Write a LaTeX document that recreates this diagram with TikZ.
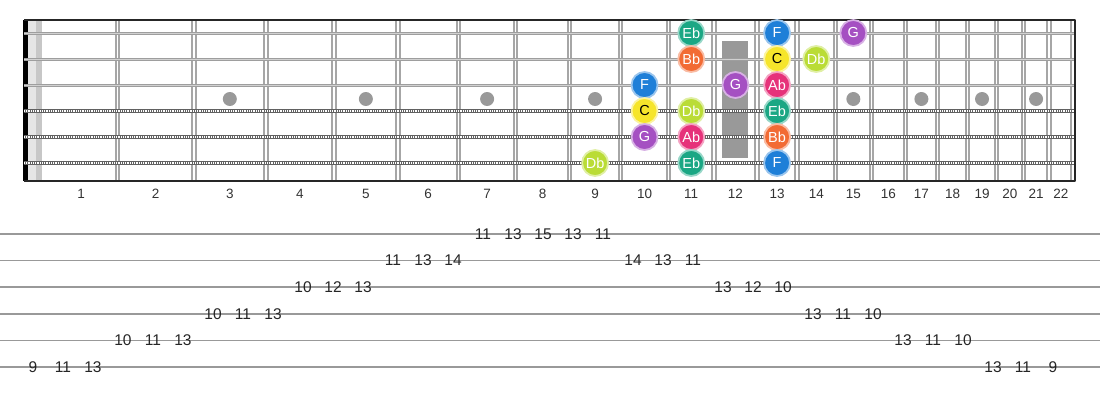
\documentclass[tikz,border=0pt]{standalone}
\usepackage{fontspec}
\setmainfont{Liberation Sans}
\definecolor{colEb}{HTML}{1BA784}
\definecolor{colF}{HTML}{1E7FD8}
\definecolor{colG}{HTML}{A550C2}
\definecolor{colBb}{HTML}{F26B34}
\definecolor{colC}{HTML}{F6E52B}
\definecolor{colDb}{HTML}{BADC36}
\definecolor{colAb}{HTML}{E6327A}
\begin{document}
\begin{tikzpicture}[x=1pt,y=-1pt, line join=round,
	declare function={fw(\n)=37+1440*(1-2^(-\n/12)); fc(\n)=(fw(\n-1)+fw(\n))/2;},
	note/.style={circle,minimum size=26pt,inner sep=0pt,line width=1.8pt,font=\fontsize{14.5}{16}\selectfont},
	tabnum/.style={inner sep=0pt,text=black!85,font=\fontsize{15.5}{17}\selectfont},
	fretnum/.style={inner sep=0pt,text=black!80,font=\fontsize{13.5}{15}\selectfont}]
	\def\sy{26} \def\ty{26.6} % string spacing
	\useasboundingbox (0,0) rectangle (1100,400);
	% nut
	\fill[black] (23,20) rectangle (28,181);
	\fill[black!10] (28,20) rectangle (36,181);
	\fill[black!22] (36,20) rectangle (42,181);
	% frets and inlays
	\foreach \n in {1,...,22} {
		\draw[black!35,line width=5.5pt] ({fw(\n)},20)--({fw(\n)},181);
		\draw[white,line width=1.5pt] ({fw(\n)},20)--({fw(\n)},181);
	}
	\foreach \n in {3,5,7,9,15,17,19,21} \fill[black!40] ({fc(\n)},99) circle[radius=7];
	\fill[black!40] ({fc(12)-13},41) rectangle ({fc(12)+13},158);
	% strings
	\foreach \s in {1,2,3} {
		\draw[black!38,line width=3pt] (24,{33+\sy*(\s-1)})--(1075,{33+\sy*(\s-1)});
		\draw[black!18,line width=0.8pt] (24,{33+\sy*(\s-1)})--(1075,{33+\sy*(\s-1)});
	}
	\foreach \s in {4,5,6} {
		\draw[black!62,line width=4.5pt] (24,{33+\sy*(\s-1)})--(1075,{33+\sy*(\s-1)});
		\draw[white,line width=1.8pt,dash pattern=on 0.8pt off 1pt] (24,{33+\sy*(\s-1)})--(1075,{33+\sy*(\s-1)});
	}
	\draw[black!85,line width=1.5pt] (24,20)--(1075,20)--(1075,181)--(24,181);
	% notes
	\foreach \s/\f/\nm/\tc in {1/11/Eb/white,1/13/F/white,1/15/G/white,
		2/11/Bb/white,2/13/C/black,2/14/Db/white,
		3/10/F/white,3/12/G/white,3/13/Ab/white,
		4/10/C/black,4/11/Db/white,4/13/Eb/white,
		5/10/G/white,5/11/Ab/white,5/13/Bb/white,
		6/9/Db/white,6/11/Eb/white,6/13/F/white}
		\node[note,fill=col\nm,draw=col\nm!45!white,text=\tc] (n\s-\f) at ({fc(\f)},{33+\sy*(\s-1)}) {\nm};
	% fret numbers
	\foreach \n in {1,...,22} \node[fretnum] (f\n) at ({fc(\n)+4*(\n==1)},194) {\n};
	% tab
	\foreach \s in {1,...,6} \draw[black!40,line width=1.5pt] (0,{234+\ty*(\s-1)})--(1100,{234+\ty*(\s-1)});
	\foreach \s/\f [count=\i from 0] in {6/9,6/11,6/13,5/10,5/11,5/13,4/10,4/11,4/13,
		3/10,3/12,3/13,2/11,2/13,2/14,1/11,1/13,1/15,1/13,1/11,2/14,2/13,2/11,
		3/13,3/12,3/10,4/13,4/11,4/10,5/13,5/11,5/10,6/13,6/11,6/9}
		\node[tabnum] (t\i) at ({33+30*\i},{234+\ty*(\s-1)}) {\f};
\end{tikzpicture}
\end{document}
